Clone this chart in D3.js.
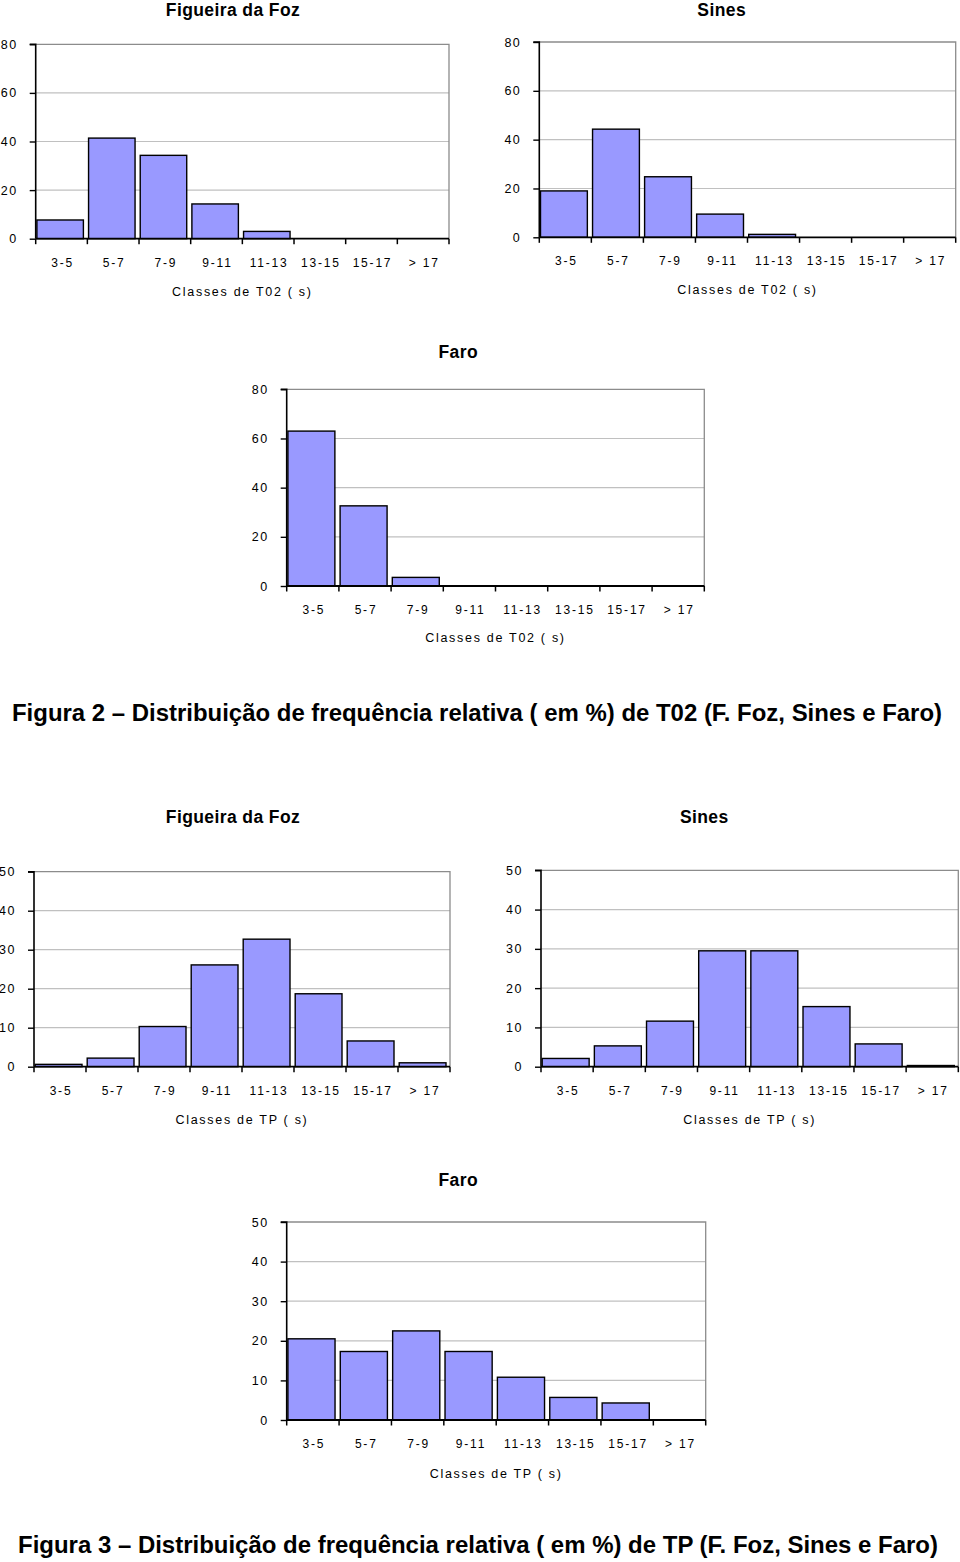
<!DOCTYPE html>
<html>
<head>
<meta charset="utf-8">
<script src="https://cdn.jsdelivr.net/npm/d3@7"></script>
<style>
  body { margin: 0; background: #fff; }
  svg { display: block; font-family: "Liberation Sans", Arial, sans-serif; }
</style>
</head>
<body>
<svg id="chart" width="960" height="1562"></svg>
<script>
// ---- data ----
const categories = ["3-5", "5-7", "7-9", "9-11", "11-13", "13-15", "15-17", "> 17"];
const t02Figueira = [7.7, 41.4, 34.3, 14.3, 3.0, 0, 0, 0];
const t02Sines    = [19.0, 44.3, 24.8, 9.5, 1.2, 0, 0, 0];
const t02Faro     = [63.0, 32.6, 3.5, 0, 0, 0, 0, 0];
const tpFigueira  = [0.6, 2.2, 10.3, 26.1, 32.7, 18.7, 6.6, 1.0];
const tpSines     = [2.1, 5.3, 11.6, 29.5, 29.5, 15.3, 5.8, 0.3];
const tpFaro      = [20.5, 17.3, 22.5, 17.3, 10.8, 5.7, 4.3, 0];
const t02Ticks = [0, 20, 40, 60, 80];
const tpTicks  = [0, 10, 20, 30, 40, 50];
const stations = ["Figueira da Foz", "Sines", "Faro"];
const axisTitleT02 = "Classes de T02 ( s)";
const axisTitleTP  = "Classes de TP ( s)";
const caption2 = "Figura 2 \u2013 Distribuição de frequência relativa ( em %) de T02 (F. Foz, Sines e Faro)";
const caption3 = "Figura 3 \u2013 Distribuição de frequência relativa ( em %) de TP (F. Foz, Sines e Faro)";

// ---- layout ----
const panels = [
  { title: stations[0], values: t02Figueira, ticks: t02Ticks, axisTitle: axisTitleT02,
    L: 35.7, R: 449, T: 44.3, B: 238.7, titleX: 233, titleY: 9.5, tickY: 262.7, axTitleY: 291 },
  { title: stations[1], values: t02Sines, ticks: t02Ticks, axisTitle: axisTitleT02,
    L: 539.3, R: 955.7, T: 42, B: 237.3, titleX: 721.7, titleY: 9.5, tickY: 260.7, axTitleY: 289.3 },
  { title: stations[2], values: t02Faro, ticks: t02Ticks, axisTitle: axisTitleT02,
    L: 286.7, R: 704.3, T: 389.3, B: 586, titleX: 458.3, titleY: 351.7, tickY: 609.3, axTitleY: 637.7 },
  { title: stations[0], values: tpFigueira, ticks: tpTicks, axisTitle: axisTitleTP,
    L: 34, R: 450, T: 871.7, B: 1066.7, titleX: 233, titleY: 816.7, tickY: 1090.7, axTitleY: 1119.3 },
  { title: stations[1], values: tpSines, ticks: tpTicks, axisTitle: axisTitleTP,
    L: 541, R: 958.3, T: 870.3, B: 1066.7, titleX: 704.3, titleY: 816.7, tickY: 1090.7, axTitleY: 1119.3 },
  { title: stations[2], values: tpFaro, ticks: tpTicks, axisTitle: axisTitleTP,
    L: 286.7, R: 705.7, T: 1222, B: 1420, titleX: 458.3, titleY: 1179.3, tickY: 1443.3, axTitleY: 1473.3 }
];

const svg = d3.select("#chart");

panels.forEach(p => {
  const g = svg.append("g");
  const x = d3.scaleBand().domain(categories).range([p.L, p.R]).paddingInner(0).paddingOuter(0);
  const yMax = d3.max(p.ticks);
  const y = d3.scaleLinear().domain([0, yMax]).range([p.B, p.T]);
  const bw = x.bandwidth();

  // gridlines
  g.selectAll("line.grid").data(p.ticks.filter(t => t > 0 && t < yMax)).join("line")
    .attr("x1", p.L).attr("x2", p.R)
    .attr("y1", d => y(d)).attr("y2", d => y(d))
    .attr("stroke", "#c0c0c0").attr("stroke-width", 1.2);

  // top & right frame
  g.append("path")
    .attr("d", `M${p.L},${y(yMax)}H${p.R}V${y(0)}`)
    .attr("fill", "none").attr("stroke", "#8c8c8c").attr("stroke-width", 1.3);

  // bars
  g.selectAll("rect.bar").data(p.values.map((v, i) => ({ c: categories[i], v }))).join("rect")
    .attr("x", d => x(d.c) + 1.2)
    .attr("width", bw * 0.9)
    .attr("y", d => y(d.v))
    .attr("height", d => y(0) - y(d.v))
    .attr("fill", "#9999ff")
    .attr("stroke", "#000").attr("stroke-width", 1.4);

  // y axis
  const yAxis = d3.axisLeft(y).tickValues(p.ticks).tickSize(6).tickPadding(12).tickFormat(d3.format("d"));
  const ya = g.append("g").attr("transform", `translate(${p.L},0)`).call(yAxis);
  ya.select(".domain").attr("stroke", "#000").attr("stroke-width", 1.6).attr("d", `M-6,${y(yMax)}H0V${y(0)}`);
  ya.selectAll(".tick line").attr("stroke", "#000").attr("stroke-width", 1.4);
  ya.selectAll(".tick text").attr("font-size", 12.5).attr("fill", "#000")
    .attr("font-family", "Liberation Sans, Arial, sans-serif").attr("letter-spacing", 1.5);

  // x axis line
  g.append("line").attr("x1", p.L).attr("x2", p.R).attr("y1", y(0)).attr("y2", y(0))
    .attr("stroke", "#000").attr("stroke-width", 1.8);
  // boundary ticks
  const bounds = categories.map(c => x(c)).concat([p.R]);
  g.selectAll("line.xt").data(bounds).join("line")
    .attr("x1", d => d).attr("x2", d => d)
    .attr("y1", y(0)).attr("y2", y(0) + 5.5)
    .attr("stroke", "#000").attr("stroke-width", 1.5);

  // x category labels
  g.selectAll("text.xl").data(categories).join("text")
    .attr("x", d => x(d) + bw / 2 + 1)
    .attr("y", p.tickY).attr("dy", "0.36em")
    .attr("text-anchor", "middle").attr("font-size", 12).attr("letter-spacing", 1.8)
    .text(d => d);

  // axis title
  g.append("text").attr("x", (p.L + p.R) / 2).attr("y", p.axTitleY).attr("dy", "0.36em")
    .attr("text-anchor", "middle").attr("font-size", 12.5).attr("letter-spacing", 1.7)
    .text(p.axisTitle);

  // panel title
  g.append("text").attr("x", p.titleX).attr("y", p.titleY).attr("dy", "0.36em")
    .attr("text-anchor", "middle").attr("font-size", 17.5).attr("font-weight", "bold")
    .attr("letter-spacing", 0.4)
    .text(p.title);
});

// captions
svg.append("text").attr("x", 12).attr("y", 713).attr("dy", "0.36em")
  .attr("font-size", 23).attr("font-weight", "bold")
  .attr("textLength", 930).attr("lengthAdjust", "spacingAndGlyphs").text(caption2);
svg.append("text").attr("x", 18).attr("y", 1545).attr("dy", "0.36em")
  .attr("font-size", 23).attr("font-weight", "bold")
  .attr("textLength", 920).attr("lengthAdjust", "spacingAndGlyphs").text(caption3);
</script>
</body>
</html>
